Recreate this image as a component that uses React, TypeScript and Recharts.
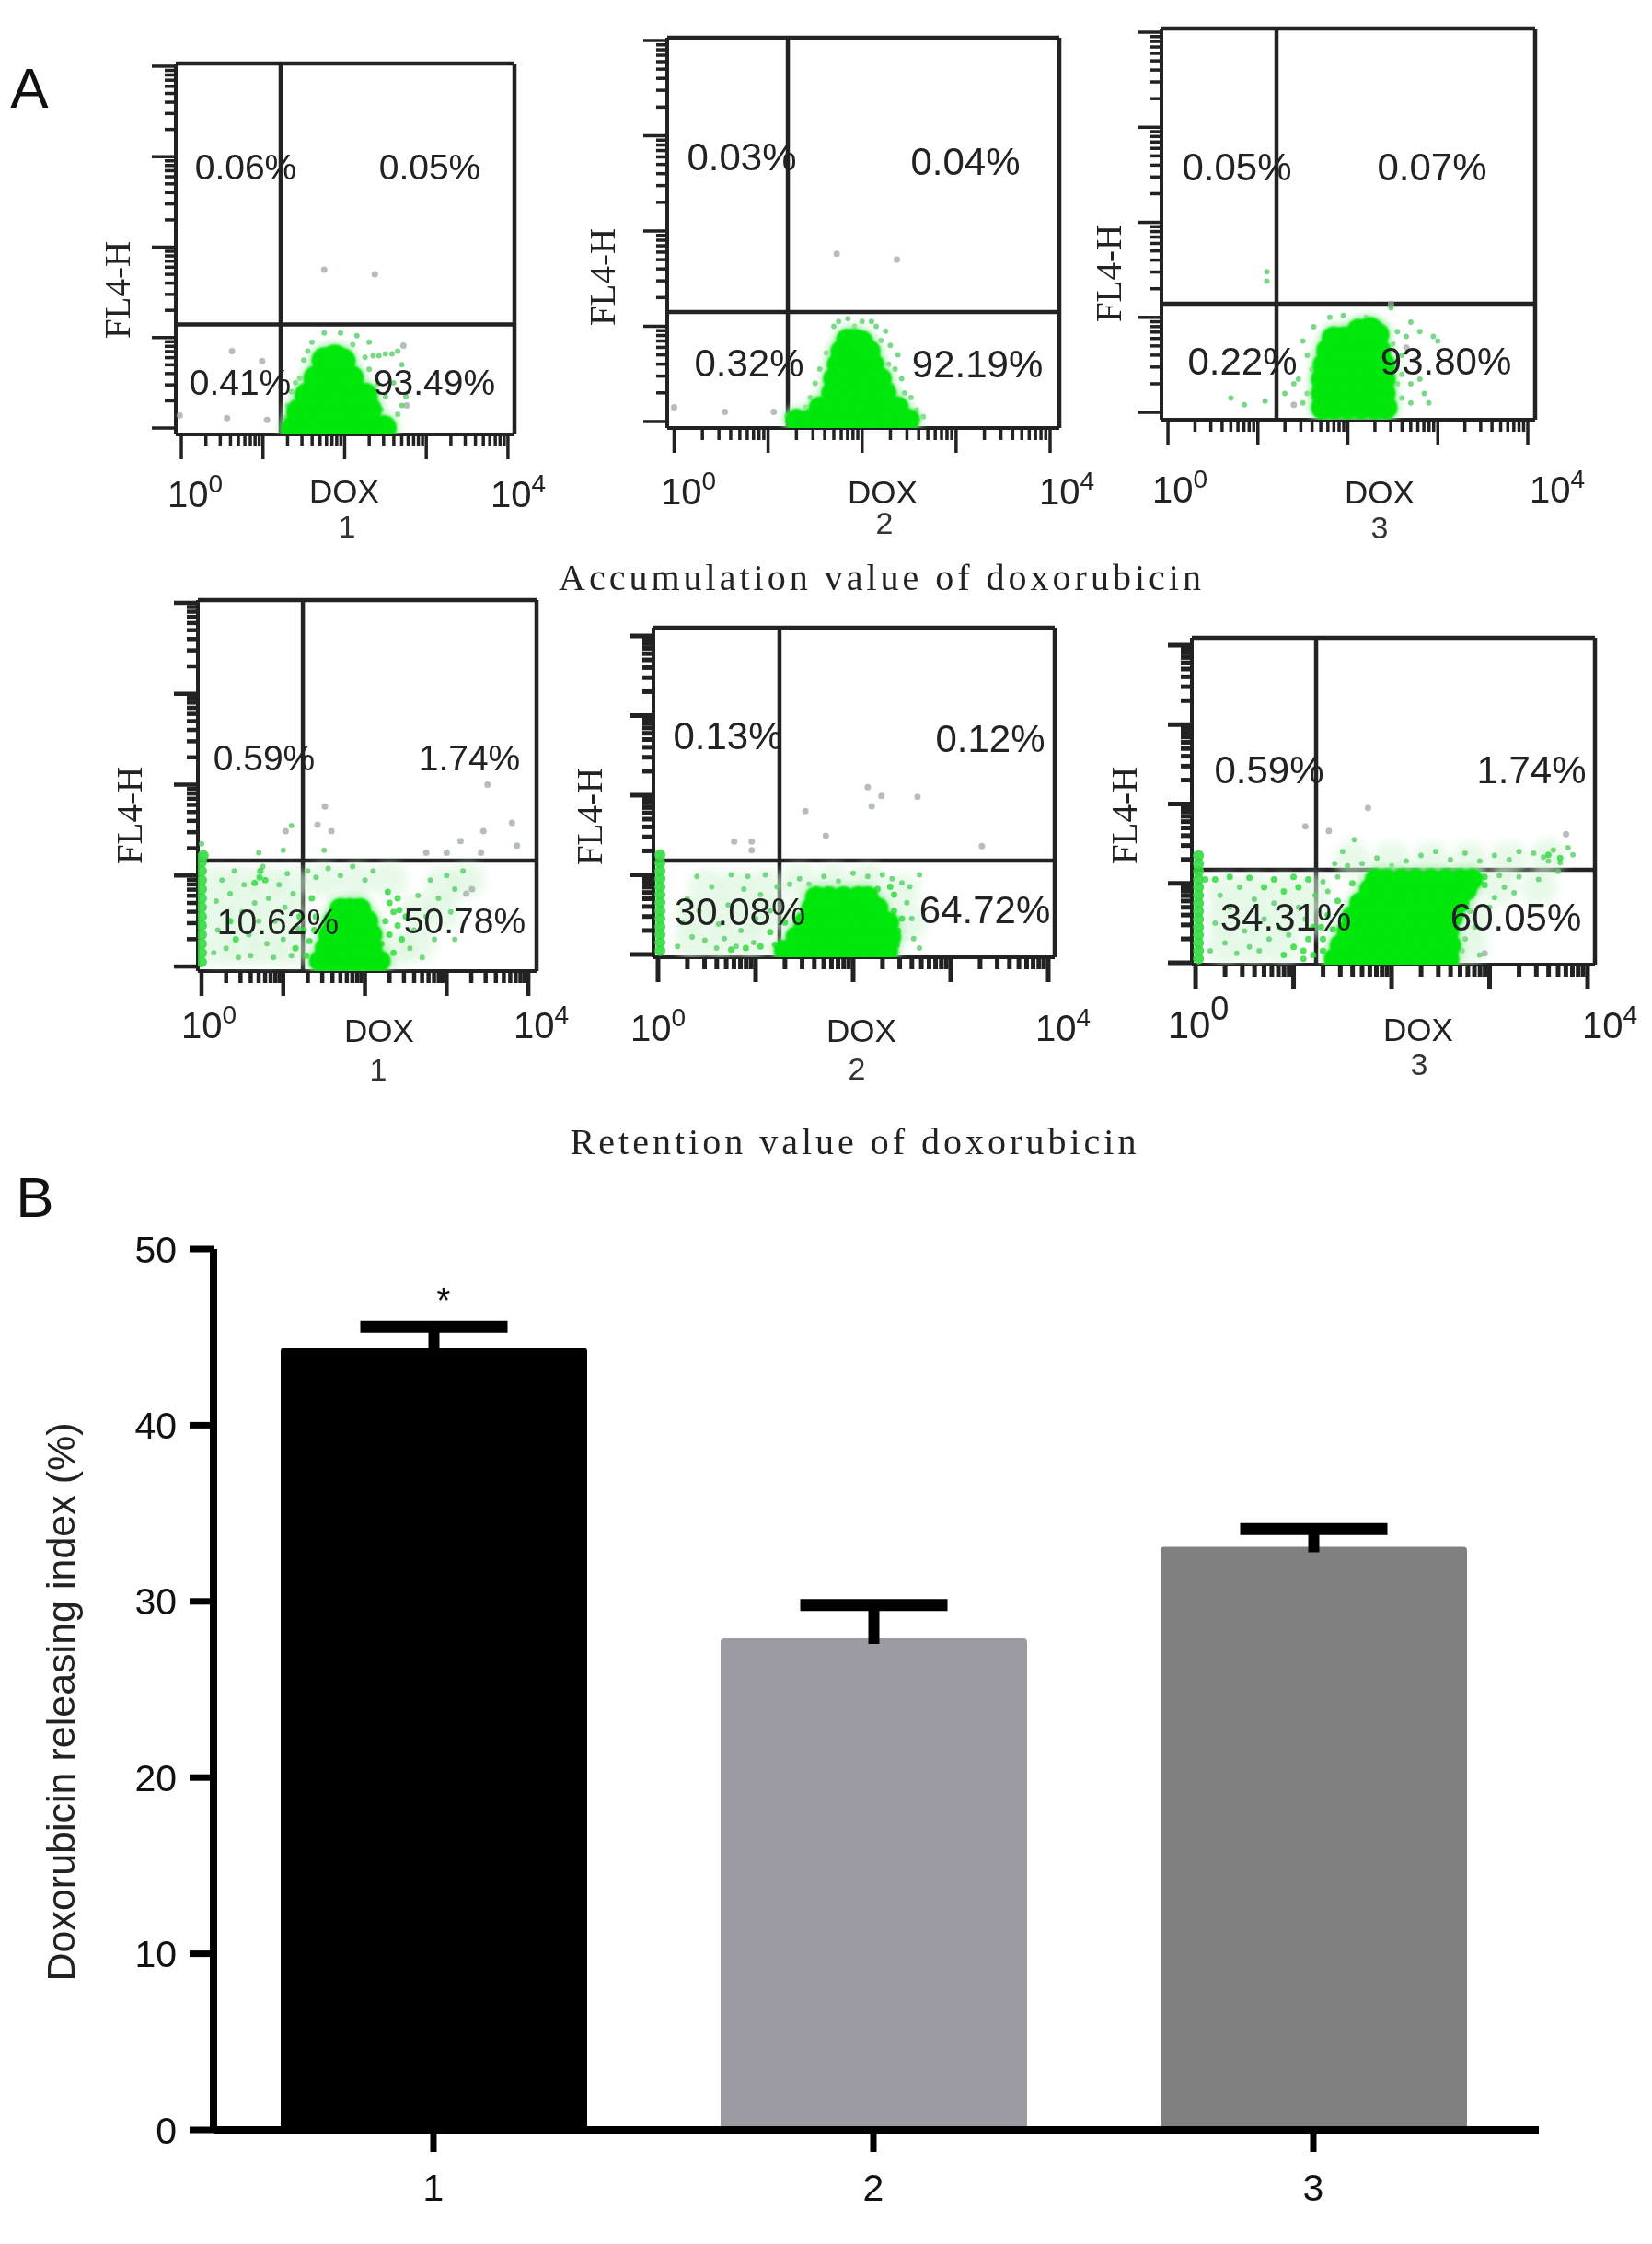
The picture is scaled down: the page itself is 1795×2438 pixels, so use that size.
import React from "react";
import {
  BarChart,
  Bar,
  ScatterChart,
  Scatter,
  XAxis,
  YAxis,
  ReferenceLine,
} from "recharts";

type Pair = [number, number];

// log decades on both axes: [DOX, FL4-H]
const a1Core: Pair[] = [
  [1.38, 0.0], [1.5, 0.0], [1.7, 0.0], [1.9, 0.0], [2.1, 0.0], [2.3, 0.0], [2.48, 0.0],
  [1.44, 0.18], [1.6, 0.18], [1.8, 0.18], [2.0, 0.18], [2.2, 0.18], [2.3, 0.2],
  [1.54, 0.36], [1.68, 0.36], [1.85, 0.36], [2.0, 0.36], [2.15, 0.36], [2.25, 0.36],
  [1.65, 0.55], [1.8, 0.55], [1.95, 0.55], [2.08, 0.55],
  [1.75, 0.75], [1.88, 0.78], [1.98, 0.74],
];
const a1Speck: Pair[] = [
  [1.45, 0.55], [1.35, 0.4], [1.3, 0.25], [1.4, 0.5], [1.5, 0.75], [1.6, 0.95], [1.75, 1.05],
  [1.95, 1.05], [2.15, 1.02], [2.3, 0.95], [2.35, 0.8], [2.42, 0.8], [2.5, 0.82], [2.58, 0.82],
  [2.65, 0.85], [2.7, 0.7], [2.6, 0.5], [2.5, 0.35], [2.45, 0.2], [2.65, 0.15], [2.7, 0.25],
  [2.75, 0.35], [2.3, 0.65], [2.25, 0.78], [2.4, 0.48], [1.28, 0.12], [1.55, 0.85], [2.1, 0.92],
];
const a1Stray: Pair[] = [
  [1.75, 1.75], [2.37, 1.7], [0.62, 0.85], [0.99, 0.74], [-0.02, 0.14], [0.56, 0.11],
  [1.05, 0.09], [2.72, 0.91], [2.76, 0.25],
];

const a2Core: Pair[] = [
  [1.3, 0.02], [1.45, 0.02], [1.6, 0.02], [1.75, 0.02], [1.9, 0.02], [2.05, 0.02], [2.2, 0.02], [2.35, 0.02], [2.5, 0.02],
  [1.55, 0.15], [1.7, 0.15], [1.85, 0.15], [2.0, 0.15], [2.15, 0.15], [2.3, 0.15], [2.38, 0.15],
  [1.68, 0.3], [1.8, 0.3], [1.95, 0.3], [2.1, 0.3], [2.25, 0.3],
  [1.7, 0.45], [1.8, 0.45], [1.95, 0.45], [2.1, 0.45], [2.2, 0.45],
  [1.74, 0.6], [1.85, 0.6], [2.0, 0.6], [2.12, 0.6],
  [1.78, 0.74], [1.88, 0.74], [2.0, 0.74], [2.08, 0.74],
  [1.84, 0.86], [1.92, 0.86], [2.0, 0.84],
];
const a2Speck: Pair[] = [
  [1.7, 1.0], [1.85, 1.08], [2.0, 1.05], [2.15, 1.0], [2.25, 0.95], [2.3, 0.8], [2.38, 0.7],
  [2.35, 0.55], [2.42, 0.45], [2.45, 0.3], [2.52, 0.25], [2.58, 0.12], [2.65, 0.05], [1.55, 0.55],
  [1.5, 0.4], [1.45, 0.25], [1.4, 0.15], [1.3, 0.1], [1.2, 0.06], [1.62, 0.72], [2.28, 0.6], [2.32, 0.38],
  [1.75, 1.05], [1.92, 1.0], [2.1, 1.05], [2.2, 0.85],
];
const a2Stray: Pair[] = [[1.73, 1.76], [2.37, 1.7], [0.54, 0.1], [1.06, 0.1], [0.0, 0.15]];

const a3Core: Pair[] = [
  [1.72, 0.05], [1.85, 0.05], [2.0, 0.05], [2.15, 0.05], [2.3, 0.05], [2.42, 0.05],
  [1.72, 0.2], [1.83, 0.2], [1.98, 0.2], [2.13, 0.2], [2.28, 0.2], [2.4, 0.2],
  [1.72, 0.35], [1.83, 0.35], [1.98, 0.35], [2.13, 0.35], [2.28, 0.35], [2.4, 0.35],
  [1.74, 0.5], [1.86, 0.5], [2.0, 0.5], [2.15, 0.5], [2.3, 0.5], [2.4, 0.5],
  [1.78, 0.65], [1.9, 0.65], [2.05, 0.65], [2.2, 0.65], [2.35, 0.65],
  [1.84, 0.78], [1.96, 0.78], [2.1, 0.78], [2.22, 0.8], [2.33, 0.82],
  [2.12, 0.86], [2.25, 0.88],
];
const a3Speck: Pair[] = [
  [2.55, 0.85], [2.65, 0.8], [2.7, 0.95], [2.8, 0.85], [2.95, 0.8], [3.0, 0.75], [2.6, 0.6],
  [2.75, 0.55], [2.6, 0.4], [2.7, 0.3], [2.8, 0.35], [2.85, 0.2], [2.6, 0.15], [2.7, 0.1],
  [2.9, 0.1], [1.5, 0.75], [1.55, 0.6], [1.45, 0.35], [1.4, 0.3], [1.3, 0.2], [1.55, 0.2],
  [1.5, 0.1], [1.6, 0.45], [1.62, 0.9], [1.8, 1.0], [1.95, 1.02], [2.2, 1.0], [2.48, 1.1],
  [0.7, 0.15], [0.85, 0.08], [1.08, 0.12], [1.1, 1.48], [1.1, 1.38], [2.5, 0.72], [2.55, 0.3],
];
const a3Stray: Pair[] = [[2.48, 1.14], [2.65, 0.68], [1.4, 0.08]];

const b1Core: Pair[] = [
  [1.45, 0.06], [1.6, 0.06], [1.75, 0.06], [1.9, 0.06], [2.05, 0.06], [2.18, 0.06],
  [1.52, 0.2], [1.65, 0.2], [1.8, 0.2], [1.95, 0.2], [2.08, 0.2],
  [1.56, 0.35], [1.67, 0.35], [1.82, 0.35], [1.97, 0.35], [2.08, 0.35],
  [1.62, 0.5], [1.75, 0.5], [1.9, 0.5], [2.03, 0.5],
  [1.7, 0.63], [1.82, 0.63], [1.94, 0.63],
];
const b1Strip: Pair[] = [
  [0.0, 0.05], [0.0, 0.15], [0.0, 0.25], [0.0, 0.35], [0.0, 0.45], [0.0, 0.55], [0.0, 0.65],
  [0.0, 0.75], [0.0, 0.85], [0.0, 0.95], [0.0, 1.05], [0.0, 1.15], [0.02, 1.22],
];
const b1Mid: Pair[] = [
  [0.71, 0.98], [0.65, 0.92], [0.78, 0.95], [0.72, 1.05], [2.3, 0.7], [2.35, 0.6], [2.4, 0.75],
  [2.25, 0.5], [2.3, 0.35], [2.4, 0.45], [2.2, 0.25], [2.35, 0.15], [2.45, 0.3], [2.5, 0.55],
  [2.28, 0.82], [2.42, 0.62], [1.2, 0.55], [1.25, 0.4], [1.15, 0.2], [1.35, 0.75], [1.4, 0.55],
  [1.32, 0.28], [0.35, 0.5], [0.42, 0.3], [1.28, 0.12], [1.38, 0.4],
];
const b1Speck: Pair[] = [
  [0.15, 0.15], [0.2, 0.4], [0.18, 0.72], [0.25, 0.95], [0.3, 0.2], [0.35, 0.8], [0.4, 1.05],
  [0.45, 0.1], [0.5, 0.6], [0.52, 0.9], [0.58, 0.35], [0.6, 0.12], [0.65, 0.7], [0.7, 0.5],
  [0.75, 1.1], [0.8, 0.25], [0.82, 0.75], [0.88, 0.1], [0.9, 0.5], [0.95, 0.9], [1.0, 0.3],
  [1.02, 0.65], [1.05, 1.02], [1.1, 0.12], [1.12, 0.8], [1.18, 0.42], [1.3, 1.05], [1.4, 0.98],
  [1.55, 1.08], [1.7, 1.0], [1.85, 1.1], [2.0, 0.95], [2.1, 1.05], [2.55, 0.2], [2.6, 0.4],
  [2.65, 0.78], [2.7, 0.1], [2.75, 0.55], [2.8, 0.95], [2.85, 0.3], [2.9, 0.75], [3.0, 1.0],
  [3.05, 0.6], [3.1, 0.85], [3.2, 1.05], [3.1, 0.3], [1.0, 1.28], [1.1, 1.55], [1.5, 1.28],
  [0.7, 1.25], [0.0, 1.35],
];
const b1Stray: Pair[] = [
  [1.51, 1.76], [1.03, 1.49], [1.42, 1.56], [1.59, 1.49], [3.5, 2.0], [3.8, 1.58], [3.45, 1.49],
  [3.17, 1.38], [3.86, 1.33], [3.42, 1.25], [2.75, 1.25], [3.0, 1.25], [3.31, 0.85], [3.24, 0.8],
];
const b1Haze: Pair[] = [
  [0.2, 0.2], [0.5, 0.2], [0.8, 0.2], [1.1, 0.2], [0.2, 0.55], [0.5, 0.55], [0.8, 0.55], [1.1, 0.55],
  [0.2, 0.9], [0.5, 0.9], [0.8, 0.9], [1.1, 0.9], [1.5, 0.95], [1.9, 0.95], [2.3, 0.95],
  [2.4, 0.2], [2.65, 0.25], [2.65, 0.6], [2.95, 0.6], [2.95, 0.9], [3.25, 0.95],
];

const b2Core: Pair[] = [
  [1.3, 0.05], [1.45, 0.05], [1.6, 0.05], [1.75, 0.05], [1.9, 0.05], [2.05, 0.05], [2.2, 0.05], [2.35, 0.05],
  [1.42, 0.22], [1.55, 0.22], [1.7, 0.22], [1.85, 0.22], [2.0, 0.22], [2.15, 0.22], [2.3, 0.22], [2.38, 0.22],
  [1.5, 0.4], [1.65, 0.4], [1.8, 0.4], [1.95, 0.4], [2.1, 0.4], [2.25, 0.4], [2.36, 0.4],
  [1.58, 0.58], [1.7, 0.58], [1.85, 0.58], [2.0, 0.58], [2.15, 0.58], [2.25, 0.58],
  [1.62, 0.72], [1.75, 0.72], [1.9, 0.72], [2.05, 0.72], [2.15, 0.72],
];
const b2Strip: Pair[] = [
  [0.02, 0.05], [0.02, 0.15], [0.02, 0.25], [0.02, 0.35], [0.02, 0.45], [0.02, 0.55], [0.02, 0.65],
  [0.02, 0.75], [0.02, 0.85], [0.02, 0.95], [0.02, 1.05], [0.02, 1.15], [0.02, 1.25],
];
const b2Mid: Pair[] = [
  [2.42, 0.75], [2.42, 0.55], [2.46, 0.3], [2.45, 0.12], [1.2, 0.12], [1.05, 0.1], [1.15, 0.28],
  [1.3, 0.4], [2.25, 0.82], [2.38, 0.85], [2.5, 0.45], [0.9, 0.08], [0.75, 0.06],
];
const b2Speck: Pair[] = [
  [0.2, 0.1], [0.25, 0.4], [0.3, 0.7], [0.35, 0.22], [0.4, 0.98], [0.42, 0.55], [0.48, 0.18],
  [0.55, 0.85], [0.6, 0.08], [0.62, 0.38], [0.68, 0.2], [0.72, 0.62], [0.75, 1.0], [0.8, 0.1],
  [0.85, 0.3], [0.88, 0.82], [0.92, 0.98], [0.98, 0.15], [1.0, 0.45], [1.05, 0.75], [1.1, 1.0],
  [1.15, 0.55], [1.22, 0.85], [1.35, 0.88], [1.45, 0.95], [1.55, 0.88], [1.7, 0.98], [1.85, 0.92],
  [2.0, 1.02], [2.15, 0.98], [2.3, 1.0], [2.4, 0.95], [2.5, 0.9], [2.55, 0.65], [2.6, 0.45],
  [2.62, 0.2], [2.68, 0.08], [2.58, 0.85], [2.68, 1.0],
];
const b2Stray: Pair[] = [
  [2.15, 2.1], [2.29, 1.99], [2.19, 1.86], [1.51, 1.8], [1.72, 1.49], [2.66, 1.98], [3.32, 1.36],
  [0.78, 1.42], [0.96, 1.42], [0.96, 1.31],
];
const b2Haze: Pair[] = [
  [0.35, 0.15], [0.65, 0.15], [0.95, 0.15], [0.35, 0.5], [0.65, 0.5], [0.95, 0.5], [1.2, 0.5],
  [0.5, 0.85], [0.8, 0.85], [1.1, 0.85], [1.45, 0.92], [1.8, 0.92], [2.15, 0.92], [2.5, 0.8], [2.58, 0.4],
];

const b3Core: Pair[] = [
  [1.42, 0.05], [1.55, 0.05], [1.7, 0.05], [1.85, 0.05], [2.0, 0.05], [2.15, 0.05], [2.3, 0.05], [2.45, 0.05], [2.58, 0.05],
  [1.48, 0.22], [1.6, 0.22], [1.75, 0.22], [1.9, 0.22], [2.05, 0.22], [2.2, 0.22], [2.35, 0.22], [2.5, 0.22], [2.6, 0.22],
  [1.55, 0.4], [1.7, 0.4], [1.85, 0.4], [2.0, 0.4], [2.15, 0.4], [2.3, 0.4], [2.45, 0.4], [2.58, 0.4],
  [1.6, 0.58], [1.75, 0.58], [1.9, 0.58], [2.05, 0.58], [2.2, 0.58], [2.35, 0.58], [2.5, 0.58], [2.62, 0.58],
  [1.68, 0.75], [1.8, 0.75], [1.95, 0.75], [2.1, 0.75], [2.25, 0.75], [2.4, 0.75], [2.55, 0.75], [2.68, 0.75],
  [1.78, 0.92], [1.9, 0.92], [2.05, 0.92], [2.2, 0.92], [2.35, 0.92], [2.5, 0.92], [2.65, 0.92], [2.76, 0.92],
  [1.84, 1.05], [1.95, 1.05], [2.1, 1.05], [2.25, 1.05], [2.4, 1.05], [2.55, 1.05], [2.7, 1.05], [2.82, 1.05],
];
const b3Strip: Pair[] = [
  [0.03, 0.05], [0.03, 0.15], [0.03, 0.25], [0.03, 0.35], [0.03, 0.45], [0.03, 0.55], [0.03, 0.65],
  [0.03, 0.75], [0.03, 0.85], [0.03, 0.95], [0.03, 1.05], [0.03, 1.15], [0.03, 1.25], [0.03, 1.35],
];
const b3Mid: Pair[] = [
  [0.1, 1.05], [0.2, 1.05], [0.35, 1.08], [0.55, 1.07], [0.8, 1.05], [1.0, 1.08], [1.15, 1.05],
  [0.9, 0.1], [1.0, 0.2], [1.1, 0.15], [1.15, 0.3], [1.2, 0.45], [1.3, 0.3], [1.3, 0.15], [1.2, 0.1],
  [1.05, 0.95], [0.9, 0.9], [0.7, 0.95], [1.35, 0.6], [1.45, 0.78], [1.6, 1.0], [2.95, 0.98],
  [2.95, 1.08], [1.28, 0.45], [1.4, 0.42], [1.1, 0.05], [3.72, 1.32], [3.6, 1.36],
];
const b3Speck: Pair[] = [
  [0.15, 0.15], [0.2, 0.5], [0.25, 0.85], [0.3, 0.25], [0.35, 0.7], [0.42, 0.12], [0.45, 0.95],
  [0.5, 0.4], [0.55, 0.2], [0.6, 0.8], [0.65, 0.15], [0.7, 0.55], [0.75, 0.3], [0.8, 0.75],
  [0.85, 0.45], [0.95, 0.35], [1.05, 0.7], [1.12, 0.55], [1.22, 0.85], [1.3, 1.02], [1.35, 0.9],
  [1.42, 1.25], [1.45, 1.08], [1.5, 1.4], [1.55, 1.22], [1.62, 1.55], [1.7, 1.25], [1.85, 1.32],
  [2.0, 1.22], [2.15, 1.28], [2.3, 1.35], [2.45, 1.4], [2.6, 1.3], [2.75, 1.38], [2.9, 1.28],
  [3.05, 1.35], [3.2, 1.3], [3.3, 1.4], [3.45, 1.38], [3.55, 1.33], [3.65, 1.42], [3.72, 1.26],
  [3.8, 1.45], [3.85, 1.36], [3.6, 1.28], [3.3, 1.08], [3.1, 1.1], [3.15, 0.95], [3.25, 0.88],
  [3.05, 0.82], [3.0, 0.7], [2.8, 0.65], [2.85, 0.45], [2.75, 0.3], [2.72, 0.15], [2.9, 0.1],
  [3.5, 1.05], [3.7, 1.15],
];
const b3Stray: Pair[] = [[1.76, 1.95], [1.12, 1.72], [1.36, 1.66], [3.78, 1.62], [2.95, 0.12]];
const b3Haze: Pair[] = [
  [0.3, 0.2], [0.6, 0.2], [0.9, 0.2], [0.3, 0.55], [0.6, 0.55], [0.9, 0.55], [1.2, 0.55],
  [0.3, 0.9], [0.6, 0.9], [0.9, 0.9], [1.2, 0.9], [1.6, 1.3], [2.0, 1.3], [2.4, 1.3], [2.8, 1.3],
  [3.2, 1.3], [3.6, 1.33], [3.1, 0.95], [3.5, 0.95], [2.85, 0.55], [2.8, 0.2],
];

const a1Percents = ["0.06%", "0.05%", "0.41%", "93.49%"];
const a2Percents = ["0.03%", "0.04%", "0.32%", "92.19%"];
const a3Percents = ["0.05%", "0.07%", "0.22%", "93.80%"];
const b1Percents = ["0.59%", "1.74%", "10.62%", "50.78%"];
const b2Percents = ["0.13%", "0.12%", "30.08%", "64.72%"];
const b3Percents = ["0.59%", "1.74%", "34.31%", "60.05%"];

const logTicks = [
  0, 0.301, 0.477, 0.602, 0.699, 0.778, 0.845, 0.903, 0.954,
  1, 1.301, 1.477, 1.602, 1.699, 1.778, 1.845, 1.903, 1.954,
  2, 2.301, 2.477, 2.602, 2.699, 2.778, 2.845, 2.903, 2.954,
  3, 3.301, 3.477, 3.602, 3.699, 3.778, 3.845, 3.903, 3.954,
  4,
];

// bar chart (panel B)
const groups = ["1", "2", "3"];
const releaseMeans = [44.4, 27.9, 33.1];
const releaseErrs = [1.2, 1.9, 1.0];
const barColors = ["#000000", "#9c9ba3", "#808080"];
const releaseTicks = [0, 10, 20, 30, 40, 50];

const barRows = groups.map((g, i) => ({ group: g, mean: releaseMeans[i], err: releaseErrs[i] }));

const SANS = "'Liberation Sans', Arial, sans-serif";
const SERIF = "'Liberation Serif', 'Times New Roman', serif";
const INK = "#222222";
const GREEN = "#00e70c";
const none: Pair[] = [];

const panels = [
  {
    key: "a1", core: a1Core, strip: none, mid: none, haze: none, speck: a1Speck, stray: a1Stray, percents: a1Percents, tag: "1",
    box: { l: 191, r: 559, t: 69, b: 472 }, domX: [-0.068, 4.08], domY: [-0.071, 4.03], gate: [1.217, 1.145],
    coreR: 14, fs: 39, tickW: 3.5, supBig: false, lab: [[267, 181], [467, 181], [261, 415], [472, 415]],
    low: [212, 551], high: [563, 551], dox: [374, 533], num: [377, 572], fl: [127, 315],
  },
  {
    key: "a2", core: a2Core, strip: none, mid: none, haze: none, speck: a2Speck, stray: a2Stray, percents: a2Percents, tag: "2",
    box: { l: 725, r: 1151, t: 41, b: 465 }, domX: [-0.073, 4.098], domY: [-0.068, 4.029], gate: [1.21, 1.15],
    coreR: 12, fs: 42, tickW: 3.5, supBig: false, lab: [[806, 171], [1049, 176], [814, 395], [1062, 396]],
    low: [748, 548], high: [1159, 548], dox: [959, 534], num: [961, 568], fl: [654, 301],
  },
  {
    key: "a3", core: a3Core, strip: none, mid: none, haze: none, speck: a3Speck, stray: a3Stray, percents: a3Percents, tag: "3",
    box: { l: 1262, r: 1668, t: 31, b: 456 }, domX: [-0.072, 4.082], domY: [-0.077, 4.039], gate: [1.207, 1.143],
    coreR: 13, fs: 42, tickW: 3.5, supBig: false, lab: [[1344, 182], [1556, 182], [1350, 393], [1571, 393]],
    low: [1282, 546], high: [1692, 546], dox: [1499, 534], num: [1499, 573], fl: [1204, 297],
  },
  {
    key: "b1", core: b1Core, strip: b1Strip, mid: b1Mid, haze: b1Haze, speck: b1Speck, stray: b1Stray, percents: b1Percents, tag: "1",
    box: { l: 215, r: 583, t: 652, b: 1055 }, domX: [-0.045, 4.1], domY: [-0.05, 4.03], gate: [1.24, 1.165],
    coreR: 12, fs: 39, tickW: 4.5, supBig: false, lab: [[287, 823], [510, 823], [302, 1001], [505, 1000]],
    low: [227, 1128], high: [588, 1128], dox: [412, 1119], num: [411, 1162], fl: [140, 886],
  },
  {
    key: "b2", core: b2Core, strip: b2Strip, mid: b2Mid, haze: b2Haze, speck: b2Speck, stray: b2Stray, percents: b2Percents, tag: "2",
    box: { l: 710, r: 1146, t: 682, b: 1040 }, domX: [-0.047, 4.066], domY: [-0.035, 4.104], gate: [1.245, 1.18],
    coreR: 12, fs: 42, tickW: 5, supBig: false, lab: [[791, 800], [1076, 803], [804, 991], [1070, 989]],
    low: [715, 1131], high: [1155, 1131], dox: [936, 1119], num: [931, 1161], fl: [640, 887],
  },
  {
    key: "b3", core: b3Core, strip: b3Strip, mid: b3Mid, haze: b3Haze, speck: b3Speck, stray: b3Stray, percents: b3Percents, tag: "3",
    box: { l: 1295, r: 1733, t: 693, b: 1048 }, domX: [-0.038, 4.075], domY: [-0.023, 4.093], gate: [1.23, 1.17],
    coreR: 12, fs: 42, tickW: 5, supBig: true, lab: [[1379, 837], [1664, 837], [1397, 997], [1647, 997]],
    low: [1302, 1128], high: [1749, 1128], dox: [1541, 1118], num: [1542, 1156], fl: [1221, 886],
  },
];

const toPoints = (list: Pair[]) => list.map(([x, y]) => ({ x, y }));

const dot = (r: number, fill: string, opacity = 1, soft = 0) => (p: any) =>
  <circle cx={p.cx} cy={p.cy} r={r} fill={fill} opacity={opacity} style={soft ? { filter: `blur(${soft}px)` } : undefined} />;

function Note({ x, y, size, font = SANS, rotate = 0, spacing = 0, color = INK, children }: any) {
  return (
    <div
      style={{
        position: "absolute",
        left: x,
        top: y,
        transform: `translate(-50%, -50%) rotate(${rotate}deg)`,
        fontFamily: font,
        fontSize: size,
        letterSpacing: spacing,
        color,
        lineHeight: 1,
        whiteSpace: "nowrap",
      }}
    >
      {children}
    </div>
  );
}

const isDecade = (v: number) => Number.isInteger(v);

function FlowPanel({ panel }: { panel: (typeof panels)[number] }) {
  const { box } = panel;
  const padL = 50;
  const padT = 10;
  const padR = 70;
  const padB = 110;
  const w = box.r - box.l + padL + padR;
  const h = box.b - box.t + padT + padB;

  const xTick = (p: any) => {
    const v = p.payload.value;
    const len = isDecade(v) ? 27 : 13;
    const edge = v === 0 ? panel.low : v === 4 ? panel.high : null;
    const big = panel.supBig && v === 0;
    return (
      <g>
        <line x1={p.x} x2={p.x} y1={p.y} y2={p.y + len} stroke={INK} strokeWidth={panel.tickW} />
        {edge && (
          <text
            x={edge[0] - box.l + padL}
            y={edge[1] - box.t + padT}
            textAnchor="middle"
            fontFamily={SANS}
            fontSize={big ? 42 : 40}
            fill={INK}
          >
            <tspan>10</tspan>
            <tspan dy={big ? -20 : -16} fontSize={big ? 36 : 28}>{v}</tspan>
          </text>
        )}
      </g>
    );
  };

  const yTick = (p: any) => {
    const v = p.payload.value;
    const len = isDecade(v) ? 26 : 12;
    return <line x1={p.x} x2={p.x - len} y1={p.y} y2={p.y} stroke={INK} strokeWidth={panel.tickW} />;
  };

  return (
    <>
      <div style={{ position: "absolute", left: box.l - padL, top: box.t - padT }}>
        <ScatterChart width={w} height={h} margin={{ top: padT, right: padR, bottom: 0, left: 0 }}>
          <XAxis
            type="number"
            dataKey="x"
            domain={panel.domX}
            allowDataOverflow
            ticks={logTicks}
            interval={0}
            height={padB}
            tick={xTick}
            tickLine={false}
            tickSize={0}
            tickMargin={0}
            axisLine={{ stroke: INK, strokeWidth: 4 }}
          />
          <YAxis
            type="number"
            dataKey="y"
            domain={panel.domY}
            allowDataOverflow
            ticks={logTicks}
            interval={0}
            width={padL}
            tick={yTick}
            tickLine={false}
            tickSize={0}
            tickMargin={0}
            axisLine={{ stroke: INK, strokeWidth: 4 }}
          />
          <Scatter data={toPoints(panel.haze)} shape={dot(20, "#d6f5d8", 0.55, 5)} isAnimationActive={false} />
          <Scatter data={toPoints(panel.stray)} shape={dot(3.5, "#9ea8a4", 0.75)} isAnimationActive={false} />
          <Scatter data={toPoints(panel.speck)} shape={dot(3, "#58cf68", 0.8, 0.6)} isAnimationActive={false} />
          <Scatter data={toPoints(panel.core)} shape={dot(panel.coreR + 4, "#a8f0ad", 0.6, 3)} isAnimationActive={false} />
          <Scatter data={toPoints(panel.strip)} shape={dot(6, "#35db42", 0.9, 0.6)} isAnimationActive={false} />
          <Scatter data={toPoints(panel.mid)} shape={dot(3.5, "#35db42", 0.85, 0.6)} isAnimationActive={false} />
          <Scatter data={toPoints(panel.core)} shape={dot(panel.coreR, GREEN, 1, 1)} isAnimationActive={false} />
          <ReferenceLine x={panel.gate[0]} stroke={INK} strokeWidth={4.5} />
          <ReferenceLine y={panel.gate[1]} stroke={INK} strokeWidth={4.5} />
          <ReferenceLine x={panel.domX[1]} stroke={INK} strokeWidth={4.5} />
          <ReferenceLine y={panel.domY[1]} stroke={INK} strokeWidth={4.5} />
        </ScatterChart>
      </div>
      {panel.percents.map((t, i) => (
        <Note key={panel.key + t + i} x={panel.lab[i][0]} y={panel.lab[i][1]} size={panel.fs}>
          {t}
        </Note>
      ))}
      <Note x={panel.dox[0]} y={panel.dox[1]} size={35}>DOX</Note>
      <Note x={panel.num[0]} y={panel.num[1]} size={34} color="#333">{panel.tag}</Note>
      <Note x={panel.fl[0]} y={panel.fl[1]} size={39} font={SERIF} rotate={-90}>FL4-H</Note>
    </>
  );
}

const releaseBar = (p: any) => {
  const row = p.payload;
  const cx = p.x + p.width / 2;
  const capY = p.y - (row.err / row.mean) * p.height;
  return (
    <g>
      <rect x={p.x} y={p.y} width={p.width} height={p.height} rx={4} fill={barColors[p.index]} />
      <line x1={cx} x2={cx} y1={capY} y2={p.y + 6} stroke="#000" strokeWidth={12} />
      <line x1={cx - 80} x2={cx + 80} y1={capY} y2={capY} stroke="#000" strokeWidth={13} />
    </g>
  );
};

export default function App() {
  return (
    <div
      style={{
        position: "absolute",
        left: 0,
        top: 0,
        width: 1795,
        height: 2438,
        background: "#fff",
        overflow: "hidden",
        filter: "blur(0.7px)",
      }}
    >
      {panels.map((p) => (
        <FlowPanel key={p.key} panel={p} />
      ))}

      <Note x={32} y={96} size={62} color="#111">A</Note>
      <Note x={38} y={1301} size={62} color="#111">B</Note>
      <Note x={958} y={628} size={40} font={SERIF} spacing={4}>Accumulation value of doxorubicin</Note>
      <Note x={929} y={1241} size={40} font={SERIF} spacing={4}>Retention value of doxorubicin</Note>

      <div style={{ position: "absolute", left: 0, top: 1300 }}>
        <BarChart
          width={1795}
          height={1138}
          data={barRows}
          margin={{ top: 57, right: 123, bottom: 0, left: 0 }}
        >
          <XAxis
            dataKey="group"
            height={124}
            padding={{ left: 0, right: 6 }}
            tickSize={24}
            tickMargin={24}
            tick={{ fill: "#111", fontSize: 41, fontFamily: SANS }}
            tickLine={{ stroke: "#000", strokeWidth: 7 }}
            axisLine={{ stroke: "#000", strokeWidth: 8 }}
          />
          <YAxis
            type="number"
            domain={[0, 50]}
            ticks={releaseTicks}
            width={232}
            tickSize={26}
            tickMargin={14}
            tick={{ fill: "#111", fontSize: 41, fontFamily: SANS }}
            tickLine={{ stroke: "#000", strokeWidth: 7 }}
            axisLine={{ stroke: "#000", strokeWidth: 8 }}
          />
          <Bar dataKey="mean" barSize={333} shape={releaseBar} isAnimationActive={false} />
        </BarChart>
      </div>
      <Note x={66} y={1849} size={43} rotate={-90} color="#222">Doxorubicin releasing index (%)</Note>
      <Note x={482} y={1413} size={38} color="#111">*</Note>
    </div>
  );
}
